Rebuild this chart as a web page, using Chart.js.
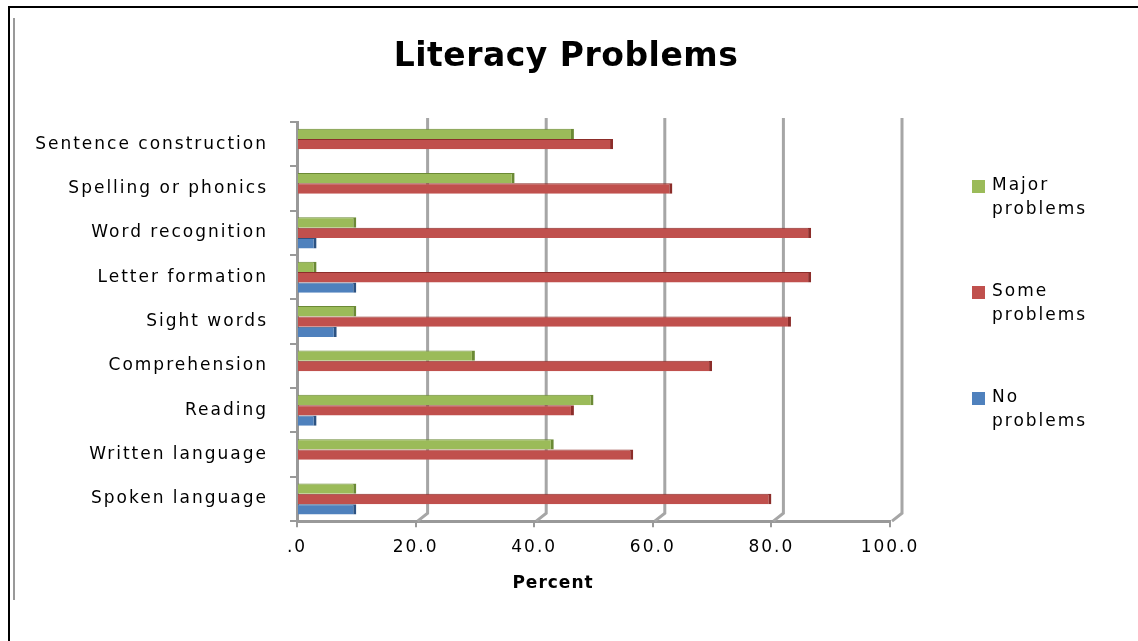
<!DOCTYPE html>
<html lang="en">
  <head>
    <meta charset="UTF-8" />
    <title>Literacy Problems</title>
    <script src="https://cdn.jsdelivr.net/npm/chart.js"></script>
    <style>
      * {
        margin: 0;
        padding: 0;
        box-sizing: border-box;
      }
      body {
        background: #fff;
        width: 1138px;
        height: 641px;
        overflow: hidden;
        position: relative;
      }
      .frame {
        position: absolute;
        left: 8px;
        top: 6px;
        width: 1140px;
        height: 650px;
        border-left: 2px solid #000;
        border-top: 2px solid #000;
      }
      .inner {
        position: absolute;
        left: 13px;
        top: 18px;
        width: 2px;
        height: 582px;
        background: #999;
      }
      canvas {
        position: absolute;
        left: 0;
        top: 0;
      }
    </style>
  </head>
  <body>
    <div class="frame"></div>
    <div class="inner"></div>
    <canvas id="chart" width="1138" height="641"></canvas>

    <script>
      const categories = [
        "Sentence construction",
        "Spelling or phonics",
        "Word recognition",
        "Letter formation",
        "Sight words",
        "Comprehension",
        "Reading",
        "Written language",
        "Spoken language",
      ];
      const majorProblems = [46.7, 36.7, 10, 3.3, 10, 30, 50, 43.3, 10];
      const someProblems = [53.3, 63.3, 86.7, 86.7, 83.3, 70, 46.7, 56.7, 80];
      const noProblems = [0, 0, 3.3, 10, 6.7, 0, 3.3, 0, 10];
      const seriesNames = [["Major", "problems"], ["Some", "problems"], ["No", "problems"]];
      const colors = ["#9bbb59", "#c0504d", "#4f81bd"];
      const darkColors = ["#6b8a35", "#8c2d2a", "#2c5282"];

      const font = "'DejaVu Sans', sans-serif";

      // the original text is rendered with wide spacing
      const spacing = {
        id: "spacing",
        beforeLayout(chart) {
          chart.ctx.letterSpacing = "2px";
        },
        beforeDraw(chart) {
          chart.ctx.letterSpacing = "2px";
        },
      };

      // back wall grid lines, shifted like the 3D look of the original
      const backWall = {
        id: "backWall",
        beforeDatasetsDraw(chart) {
          const { ctx, chartArea, scales } = chart;
          ctx.save();
          ctx.strokeStyle = "#a6a6a6";
          ctx.lineWidth = 3;
          [20, 40, 60, 80, 100].forEach((v) => {
            const x = scales.x.getPixelForValue(v) + 12;
            ctx.beginPath();
            ctx.moveTo(x, chartArea.top - 4);
            ctx.lineTo(x, chartArea.bottom - 8);
            ctx.lineTo(x - 10, chartArea.bottom);
            ctx.stroke();
          });
          ctx.restore();
        },
      };

      const titleAndLegend = {
        id: "titleAndLegend",
        afterDraw(chart) {
          const { ctx } = chart;
          ctx.save();
          ctx.textBaseline = "middle";
          ctx.fillStyle = "#000";
          ctx.textAlign = "center";
          ctx.letterSpacing = "0.5px";
          ctx.font = "bold 33px " + font;
          ctx.fillText("Literacy Problems", 566, 57);
          ctx.letterSpacing = "1px";
          ctx.font = "bold 17px " + font;
          ctx.fillText("Percent", 553, 584);
          ctx.letterSpacing = "2px";
          ctx.textAlign = "left";
          ctx.font = "17px " + font;
          seriesNames.forEach((lines, i) => {
            const y = 186 + i * 106;
            ctx.fillStyle = colors[i];
            ctx.fillRect(972, y - 6, 13, 13);
            ctx.fillStyle = "#000";
            lines.forEach((t, j) => ctx.fillText(t, 992, y + j * 24));
          });
          ctx.restore();
        },
      };

      const datasets = [majorProblems, someProblems, noProblems].map((d, i) => ({
        label: seriesNames[i].join(" "),
        data: d,
        backgroundColor: colors[i],
        borderColor: darkColors[i],
        borderWidth: { top: 1, right: 3, bottom: 0, left: 0 },
        borderSkipped: false,
        categoryPercentage: 0.7,
        barPercentage: 1.0,
      }));

      new Chart(document.getElementById("chart"), {
        type: "bar",
        data: { labels: categories, datasets: datasets },
        plugins: [spacing, backWall, titleAndLegend],
        options: {
          indexAxis: "y",
          responsive: false,
          animation: false,
          layout: { padding: { left: 0, right: 248, top: 122, bottom: 35 } },
          plugins: {
            legend: { display: false },
            tooltip: { enabled: false },
            title: { display: false },
          },
          scales: {
            x: {
              min: 0,
              max: 100,
              ticks: {
                stepSize: 20,
                color: "#000",
                font: { family: font, size: 17 },
                padding: 10,
                callback: (v) => (v === 0 ? ".0" : v.toFixed(1)),
              },
              grid: {
                drawOnChartArea: false,
                drawTicks: true,
                tickLength: 6,
                color: "#999",
                lineWidth: 2,
              },
              border: { color: "#999", width: 3 },
              // space kept here, text drawn by the plugin
              title: {
                display: true,
                text: "Percent",
                color: "rgba(0,0,0,0)",
                font: { family: font, size: 17, weight: "bold" },
                padding: { top: 18, bottom: 0 },
              },
            },
            y: {
              afterFit: (s) => {
                s.width = 297;
              },
              ticks: {
                color: "#000",
                font: { family: font, size: 17 },
                padding: 22,
              },
              grid: {
                drawOnChartArea: false,
                offset: true,
                tickLength: 7,
                color: "#999",
                lineWidth: 2,
              },
              border: { color: "#999", width: 3 },
            },
          },
        },
      });
    </script>
  </body>
</html>
